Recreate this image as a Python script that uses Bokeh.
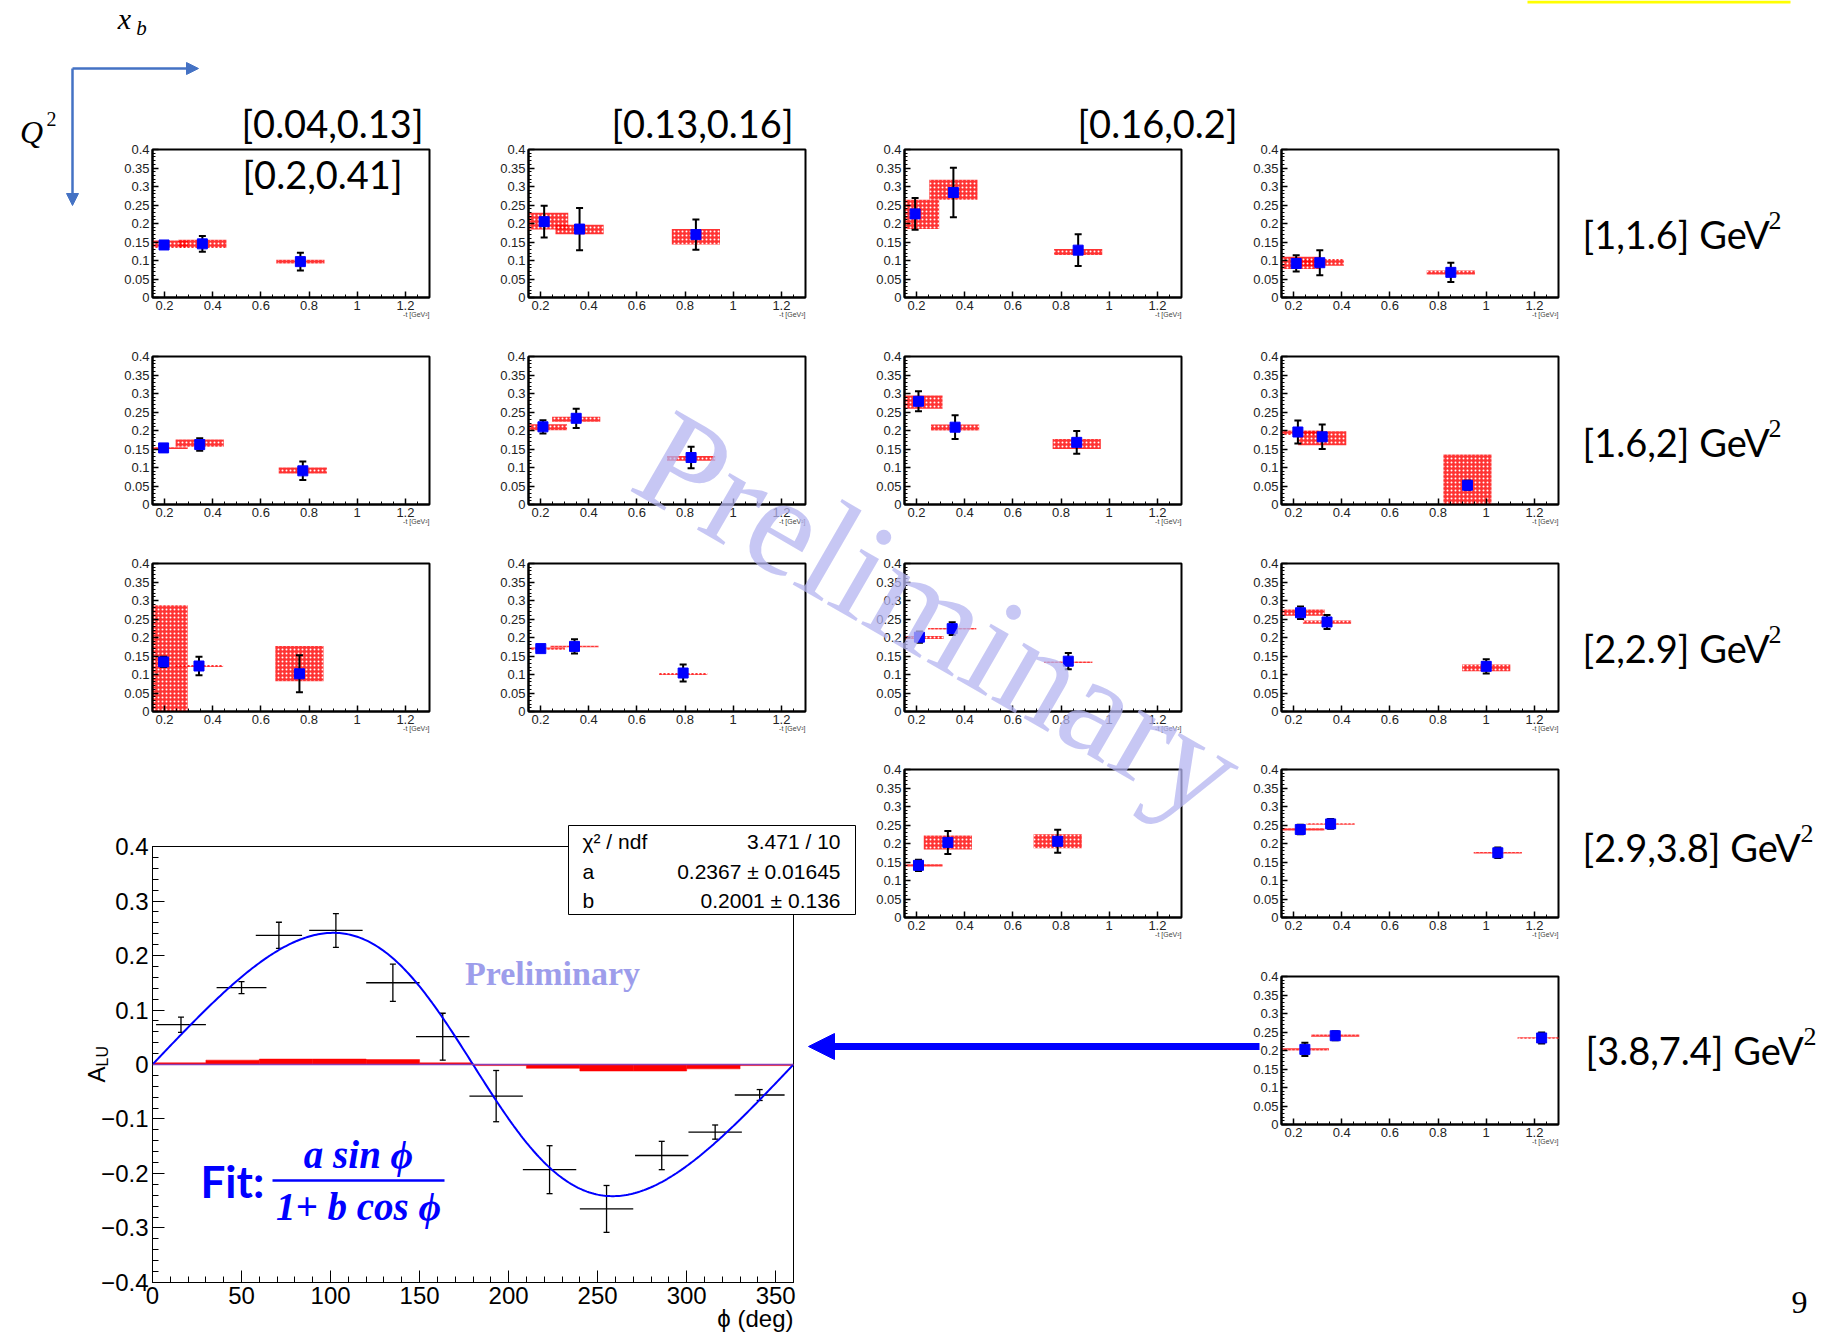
import numpy as np
from bokeh.plotting import figure
from bokeh.models import (Column, Range1d, Arrow, NormalHead, SingleIntervalTicker,
                          CustomJSTickFormatter, Span)
from bokeh.core.properties import value
from bokeh.embed import file_html
from bokeh.resources import INLINE

PAGE_W, PAGE_H = 1828, 1335

# ---------------------------------------------------------------- data
xb_bins = ["[0.04,0.13]", "[0.13,0.16]", "[0.16,0.2]", "[0.2,0.41]"]
q2_bins = ["[1,1.6] GeV", "[1.6,2] GeV", "[2,2.9] GeV", "[2.9,3.8] GeV", "[3.8,7.4] GeV"]

# grid cell (Q2 row, xB column) of every -t panel
panel_row = [0, 0, 0, 0, 1, 1, 1, 1, 2, 2, 2, 2, 3, 3, 4]
panel_col = [0, 1, 2, 3, 0, 1, 2, 3, 0, 1, 2, 3, 2, 3, 3]

# -t bin centres [GeV^2]
t_vals = [
    [0.198, 0.357, 0.764], [0.215, 0.362, 0.845], [0.194, 0.353, 0.871], [0.211, 0.309, 0.853],
    [0.196, 0.346, 0.774], [0.210, 0.348, 0.825], [0.208, 0.360, 0.865], [0.218, 0.319, 0.922],
    [0.196, 0.343, 0.760], [0.201, 0.341, 0.792], [0.212, 0.348, 0.830], [0.229, 0.339, 1.000],
    [0.208, 0.330, 0.786], [0.228, 0.354, 1.048],
    [0.247, 0.373, 1.230],
]
# sin(phi) amplitude of A_LU
alu_t = [
    [0.142, 0.145, 0.097], [0.205, 0.185, 0.170], [0.226, 0.284, 0.128], [0.092, 0.094, 0.068],
    [0.153, 0.162, 0.091], [0.210, 0.233, 0.127], [0.279, 0.209, 0.168], [0.196, 0.183, 0.052],
    [0.134, 0.123, 0.102], [0.170, 0.176, 0.104], [0.201, 0.224, 0.136], [0.267, 0.242, 0.122],
    [0.141, 0.203, 0.206], [0.238, 0.253, 0.175],
    [0.203, 0.240, 0.234],
]
# statistical uncertainty
alu_t_stat = [
    [0.010, 0.021, 0.024], [0.043, 0.057, 0.041], [0.043, 0.067, 0.043], [0.022, 0.034, 0.026],
    [0.006, 0.017, 0.025], [0.018, 0.026, 0.029], [0.027, 0.032, 0.031], [0.031, 0.033, 0.012],
    [0.014, 0.025, 0.050], [0.006, 0.019, 0.023], [0.015, 0.017, 0.022], [0.017, 0.019, 0.019],
    [0.015, 0.031, 0.031], [0.013, 0.013, 0.014],
    [0.018, 0.012, 0.015],
]
# systematic band, lower and upper edge
sys_lo = [
    [0.134, 0.134, 0.092], [0.184, 0.171, 0.143], [0.185, 0.264, 0.115], [0.077, 0.086, 0.062],
    [0.150, 0.156, 0.084], [0.201, 0.224, 0.118], [0.259, 0.200, 0.150], [0.188, 0.160, -0.030],
    [-0.020, 0.120, 0.082], [0.167, 0.174, 0.099], [0.196, 0.222, 0.131], [0.259, 0.237, 0.109],
    [0.138, 0.184, 0.187], [0.235, 0.251, 0.173],
    [0.200, 0.237, 0.232],
]
sys_hi = [
    [0.154, 0.156, 0.102], [0.229, 0.197, 0.185], [0.264, 0.318, 0.131], [0.110, 0.104, 0.073],
    [0.155, 0.176, 0.100], [0.217, 0.237, 0.131], [0.295, 0.216, 0.177], [0.200, 0.198, 0.135],
    [0.287, 0.126, 0.177], [0.173, 0.178, 0.104], [0.204, 0.226, 0.135], [0.276, 0.246, 0.127],
    [0.144, 0.222, 0.225], [0.241, 0.255, 0.177],
    [0.206, 0.243, 0.236],
]
t_halfwidth = 0.1

# phi distribution of the last bin
phi_deg = [16, 50, 71, 103, 135, 163, 193, 223, 255, 286, 316, 341]
phi_halfwidth = [14, 14, 13, 15, 15, 15, 15, 15, 15, 15, 15, 14]
alu_phi = [0.073, 0.141, 0.237, 0.246, 0.150, 0.051, -0.058, -0.193, -0.265, -0.167, -0.124, -0.056]
alu_phi_stat = [0.014, 0.011, 0.024, 0.031, 0.034, 0.043, 0.047, 0.044, 0.043, 0.026, 0.013, 0.010]
sys_phi_edges = [0, 30, 60, 90, 120, 150, 180, 210, 240, 270, 300, 330, 360]
sys_phi = [0.003, 0.008, 0.010, 0.010, 0.009, 0.003, -0.002, -0.007, -0.012, -0.012, -0.008, -0.002]
fit_a, fit_a_err = 0.2367, 0.01645
fit_b, fit_b_err = 0.2001, 0.136
chi2, ndf = 3.471, 10

# ---------------------------------------------------------------- layout
COL_X = [152, 528, 904, 1281]          # frame left edges
ROW_Y = [149, 356, 563, 769, 976]      # frame top edges
FW, FH = 277, 148
# the same borders on every plot, so that the column keeps each frame where it is put
BL, BR, BT, BB = 100, 10, 20, 45

fmt_small = CustomJSTickFormatter(code="return String(Math.round(tick*1000)/1000);")


def place(fig, left, top):
    fig.styles = {"position": "absolute", "left": f"{left}px", "top": f"{top}px"}


def new_fig(fw, fh, **kw):
    return figure(width=fw + BL + BR, height=fh + BT + BB, output_backend="svg",
                  toolbar_location=None, min_border_left=BL, min_border_right=BR,
                  min_border_top=BT, min_border_bottom=BB, border_fill_alpha=0, **kw)


def make_panel(k):
    p = new_fig(FW, FH, x_range=Range1d(0.15, 1.3), y_range=Range1d(0, 0.4001),
                background_fill_color="white", outline_line_color="black", outline_line_width=2)
    p.grid.visible = False
    p.xaxis.ticker = SingleIntervalTicker(interval=0.2, num_minor_ticks=4)
    p.yaxis.ticker = SingleIntervalTicker(interval=0.05, num_minor_ticks=5)
    p.axis.formatter = fmt_small
    p.axis.axis_line_width = 2
    p.axis.major_tick_in = 6
    p.axis.major_tick_out = 0
    p.axis.minor_tick_in = 3
    p.axis.minor_tick_out = 0
    p.axis.major_tick_line_width = 1.5
    p.axis.major_label_text_font = "Liberation Sans"
    p.axis.major_label_text_font_size = "13px"
    p.axis.major_label_text_color = "#222222"
    p.yaxis.major_label_standoff = 3
    p.xaxis.major_label_standoff = 3

    t = np.array(t_vals[k])
    a = np.array(alu_t[k])
    e = np.array(alu_t_stat[k])
    p.quad(left=t - t_halfwidth, right=t + t_halfwidth, bottom=sys_lo[k], top=sys_hi[k],
           fill_color="#ff0000", fill_alpha=0.8, line_color=None,
           hatch_pattern="dot", hatch_color="white", hatch_scale=4, hatch_weight=1.2)
    p.segment(x0=t, y0=a - e, x1=t, y1=a + e, line_color="black", line_width=2)
    p.scatter(x=np.r_[t, t], y=np.r_[a - e, a + e], marker="dash", size=7,
              line_color="black", line_width=2)
    p.scatter(x=t, y=a, marker="square", size=10, fill_color="#0000ff", line_color="#0000ff")
    place(p, COL_X[panel_col[k]] - BL, ROW_Y[panel_row[k]] - BT)
    return p


panels = [make_panel(k) for k in range(len(t_vals))]

# ---------------------------------------------------------------- phi plot
BIG_L, BIG_T, BIG_W, BIG_H = 152, 846, 641, 436
big = new_fig(BIG_W, BIG_H, x_range=Range1d(0, 360), y_range=Range1d(-0.40001, 0.40001),
              background_fill_alpha=0, outline_line_color="black", outline_line_width=1)
big.grid.visible = False
big.xaxis.ticker = SingleIntervalTicker(interval=50, num_minor_ticks=5)
big.yaxis.ticker = SingleIntervalTicker(interval=0.1, num_minor_ticks=5)
big.xaxis.formatter = CustomJSTickFormatter(code="return String(Math.round(tick));")
big.yaxis.formatter = CustomJSTickFormatter(
    code="var v = Math.round(tick*1000)/1000; return v < 0 ? '\\u2212' + String(-v) : String(v);")
big.axis.axis_line_width = 1
big.axis.major_tick_in = 12
big.axis.major_tick_out = 0
big.axis.minor_tick_in = 6
big.axis.minor_tick_out = 0
big.axis.major_label_text_font = "Liberation Sans"
big.axis.major_label_text_font_size = "24px"
big.axis.major_label_text_color = "black"
big.yaxis.major_label_standoff = 4
big.xaxis.major_label_standoff = 4

big.quad(left=sys_phi_edges[:-1], right=sys_phi_edges[1:], bottom=0, top=sys_phi,
         fill_color="#ff0000", line_color="#ff0000", line_width=0.5)
big.add_layout(Span(location=0, dimension="width", line_color="#8a3fb5", line_width=1.5))
ph = np.array(phi_deg, dtype=float)
ap = np.array(alu_phi)
ep = np.array(alu_phi_stat)
hw = np.array(phi_halfwidth, dtype=float)
big.segment(x0=ph - hw, y0=ap, x1=ph + hw, y1=ap, line_color="black", line_width=1.3)
big.segment(x0=ph, y0=ap - ep, x1=ph, y1=ap + ep, line_color="black", line_width=1.3)
big.scatter(x=np.r_[ph, ph], y=np.r_[ap - ep, ap + ep], marker="dash", size=6,
            line_color="black", line_width=1.3)
phi_fine = np.linspace(0, 360, 361)
rad = np.deg2rad(phi_fine)
big.line(phi_fine, fit_a * np.sin(rad) / (1 + fit_b * np.cos(rad)), line_color="#0000ff", line_width=2)
place(big, BIG_L - BL, BIG_T - BT)

# ---------------------------------------------------------------- page overlay (page pixels)
ov = figure(width=PAGE_W, height=PAGE_H, x_range=Range1d(0, PAGE_W), y_range=Range1d(PAGE_H, 0),
            x_axis_type=None, y_axis_type=None, output_backend="svg", toolbar_location=None,
            min_border=0, frame_align=False, background_fill_alpha=0, border_fill_alpha=0,
            outline_line_color=None)
ov.grid.visible = False


def txt(x, y, s, size, font="Lato", color="black", align="left", baseline="middle",
        style="normal", angle=0, alpha=1.0):
    ov.text(x=[x], y=[y], text=[s], text_font=value(font), text_font_size=f"{size}px",
            text_color=color, text_align=align, text_baseline=baseline,
            text_font_style=style, angle=angle, angle_units="deg", text_alpha=alpha)


# yellow strip at the top edge
ov.quad(left=1527, right=1790, top=0, bottom=3, fill_color="#ffff00", line_color=None)

# axis orientation sketch
for x1, y1 in [(198, 68), (72, 205)]:
    ov.add_layout(Arrow(x_start=72, y_start=68, x_end=x1, y_end=y1, line_color="#4472c4",
                        line_width=2.5,
                        end=NormalHead(size=12, fill_color="#4472c4", line_color="#4472c4")))
txt(124, 18, "x", 30, font="Liberation Serif", style="italic", align="center")
txt(141, 27, "b", 21, font="Liberation Serif", style="italic", align="center")
txt(31, 131, "Q", 32, font="Liberation Serif", style="italic", align="center")
txt(51, 118, "2", 20, font="Liberation Serif", align="center")

# bin headers
txt(332, 122, xb_bins[0], 38, align="center")
txt(702, 122, xb_bins[1], 38, align="center")
txt(1157, 122, xb_bins[2], 38, align="center")
txt(322, 173, xb_bins[3], 38, align="center")
q2_y = [233, 441, 647, 846, 1049]
q2_x = [1582, 1582, 1582, 1582, 1585]
q2_sup_x = [1768, 1768, 1768, 1800, 1803]
for xx, yy, sx, lab in zip(q2_x, q2_y, q2_sup_x, q2_bins):
    txt(xx, yy, lab, 38)
    txt(sx, yy - 13, "2", 26, font="Liberation Serif")

# -t axis titles under every panel
for k in range(len(t_vals)):
    txt(COL_X[panel_col[k]] + FW, ROW_Y[panel_row[k]] + FH + 17, "-t [GeV²]", 7,
        font="Liberation Sans", color="#444444", align="right")

# statistics box of the fit
ov.quad(left=568, right=855, top=825, bottom=914, fill_color="white", line_color="black",
        line_width=1)
txt(582, 841, "χ² / ndf", 21, font="Liberation Sans")
txt(840, 841, f"{chi2:.3f} / {ndf}", 21, font="Liberation Sans", align="right")
txt(582, 871, "a", 21, font="Liberation Sans")
txt(840, 871, f"{fit_a} ± {fit_a_err}", 21, font="Liberation Sans", align="right")
txt(582, 900, "b", 21, font="Liberation Sans")
txt(840, 900, f"{fit_b} ± {fit_b_err}", 21, font="Liberation Sans", align="right")

# axis titles of the phi plot
txt(793, 1318, "ϕ (deg)", 24, font="Liberation Sans", align="right")
txt(96, 1082, "A", 24, font="Liberation Sans", angle=90)
txt(102, 1066, "LU", 16, font="Liberation Sans", angle=90)

# fit function
txt(552, 973, "Preliminary", 34, font="Liberation Serif", style="bold", color="#9d9deb",
    align="center")
txt(200, 1180, "Fit:", 44, style="bold", color="#0000ff")
txt(358, 1154, "a sin ϕ", 39, font="Liberation Serif", style="bold italic", color="#0000ff",
    align="center")
txt(358, 1206, "1+ b cos ϕ", 39, font="Liberation Serif", style="bold italic", color="#0000ff",
    align="center")
ov.segment(x0=[272], y0=[1180], x1=[444], y1=[1180], line_color="#0000ff", line_width=2.5)

# arrow to the zoomed bin
ov.add_layout(Arrow(x_start=1259, y_start=1046, x_end=808, y_end=1046, line_color="#0000ff",
                    line_width=7,
                    end=NormalHead(size=26, fill_color="#0000ff", line_color="#0000ff")))

# page number
txt(1799, 1302, "9", 32, font="Liberation Serif", align="center")

# watermark
txt(940, 614, "Preliminary", 142, font="Liberation Serif", color="#b4b4f0", align="center",
    angle=-30, alpha=0.75)

place(ov, 0, 0)

root = Column(children=panels + [big, ov], width=PAGE_W, height=PAGE_H, sizing_mode="fixed",
              styles={"position": "absolute", "left": "0px", "top": "0px", "overflow": "hidden"})

with open("out.html", "w") as f:
    f.write(file_html(root, INLINE))
